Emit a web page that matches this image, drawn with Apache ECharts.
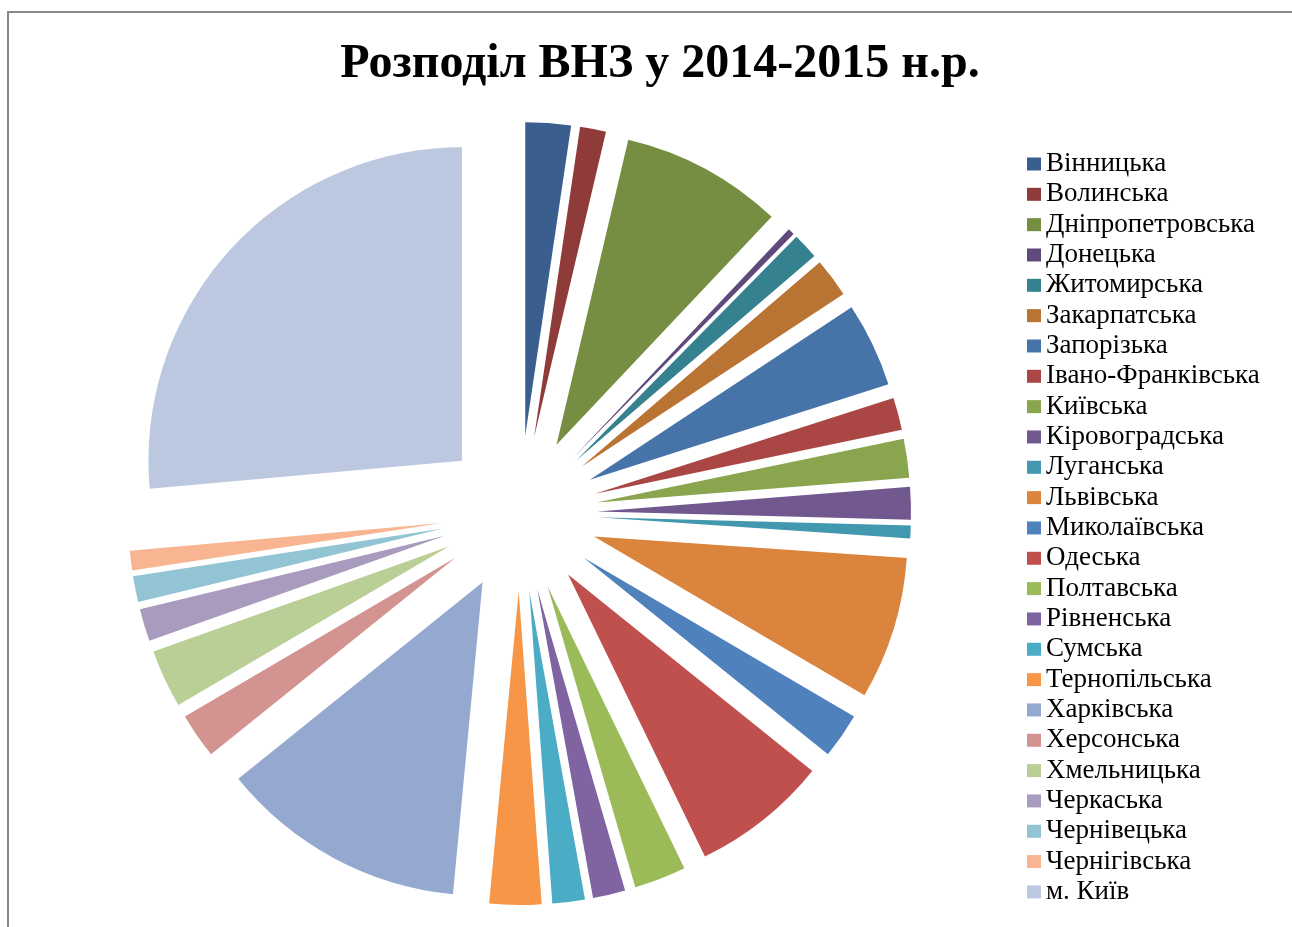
<!DOCTYPE html>
<html>
<head>
<meta charset="utf-8">
<title>Розподіл ВНЗ у 2014-2015 н.р.</title>
<script src="https://cdn.jsdelivr.net/npm/echarts@6/dist/echarts.min.js"></script>
<style>
  html, body { margin: 0; padding: 0; background: #fff; }
  #chart { width: 1292px; height: 927px; }
</style>
</head>
<body>
<div id="chart"></div>
<script>
// області (порядок як у легенді)
var regions = [
  'Вінницька', 'Волинська', 'Дніпропетровська', 'Донецька', 'Житомирська',
  'Закарпатська', 'Запорізька', 'Івано-Франківська', 'Київська', 'Кіровоградська',
  'Луганська', 'Львівська', 'Миколаївська', 'Одеська', 'Полтавська',
  'Рівненська', 'Сумська', 'Тернопільська', 'Харківська', 'Херсонська',
  'Хмельницька', 'Черкаська', 'Чернівецька', 'Чернігівська', 'м. Київ'
];
// кількість ВНЗ
var counts = [
  7, 4, 25, 1, 4,
  6, 13, 5, 6, 5,
  2, 22, 7, 21, 8,
  5, 5, 8, 38, 7,
  9, 5, 4, 3, 79
];

// палітра як в Excel 2007
var palette = [
  '#3A5F8F', '#8E3B39', '#758E42', '#5F4A7B', '#36818F', '#B97434',
  '#4674A8', '#AA4745', '#89A54E', '#71588F', '#4198AF', '#DB843D',
  '#4F81BD', '#C0504D', '#9BBB59', '#8064A2', '#4BACC6', '#F79646',
  '#95A9D0', '#D29391', '#BACF96', '#A99BBE', '#93C4D3', '#F9B591',
  '#BCC8E0'
];

var pieData = regions.map(function (name, i) {
  return { name: name, value: counts[i], selected: true };
});

var chart = echarts.init(document.getElementById('chart'));
chart.setOption({
  animation: false,
  color: palette,
  title: {
    text: 'Розподіл ВНЗ у 2014-2015 н.р.',
    left: 655,
    top: 36,
    textAlign: 'center',
    textStyle: {
      fontFamily: 'Liberation Serif',
      fontSize: 48,
      fontWeight: 'bold',
      color: '#000'
    }
  },
  legend: {
    orient: 'vertical',
    left: 1022,
    top: 145.5,
    icon: 'rect',
    itemWidth: 14,
    itemHeight: 13,
    itemGap: 3.33,
    selectedMode: false,
    textStyle: {
      fontFamily: 'Liberation Serif',
      fontSize: 27,
      lineHeight: 27,
      color: '#000'
    }
  },
  graphic: [{
    type: 'rect',
    silent: true,
    shape: { x: 8, y: 12, width: 1400, height: 1000 },
    style: { fill: 'none', stroke: '#888', lineWidth: 2 }
  }],
  series: [{
    type: 'pie',
    center: [519.5, 513.5],
    radius: 313.5,
    startAngle: 90,
    clockwise: true,
    selectedMode: 'multiple',
    selectedOffset: 78,
    avoidLabelOverlap: false,
    label: { show: false },
    labelLine: { show: false },
    itemStyle: { borderWidth: 0 },
    emphasis: { disabled: true, scale: false },
    select: { itemStyle: { borderWidth: 0 } },
    data: pieData
  }]
});
</script>
</body>
</html>
